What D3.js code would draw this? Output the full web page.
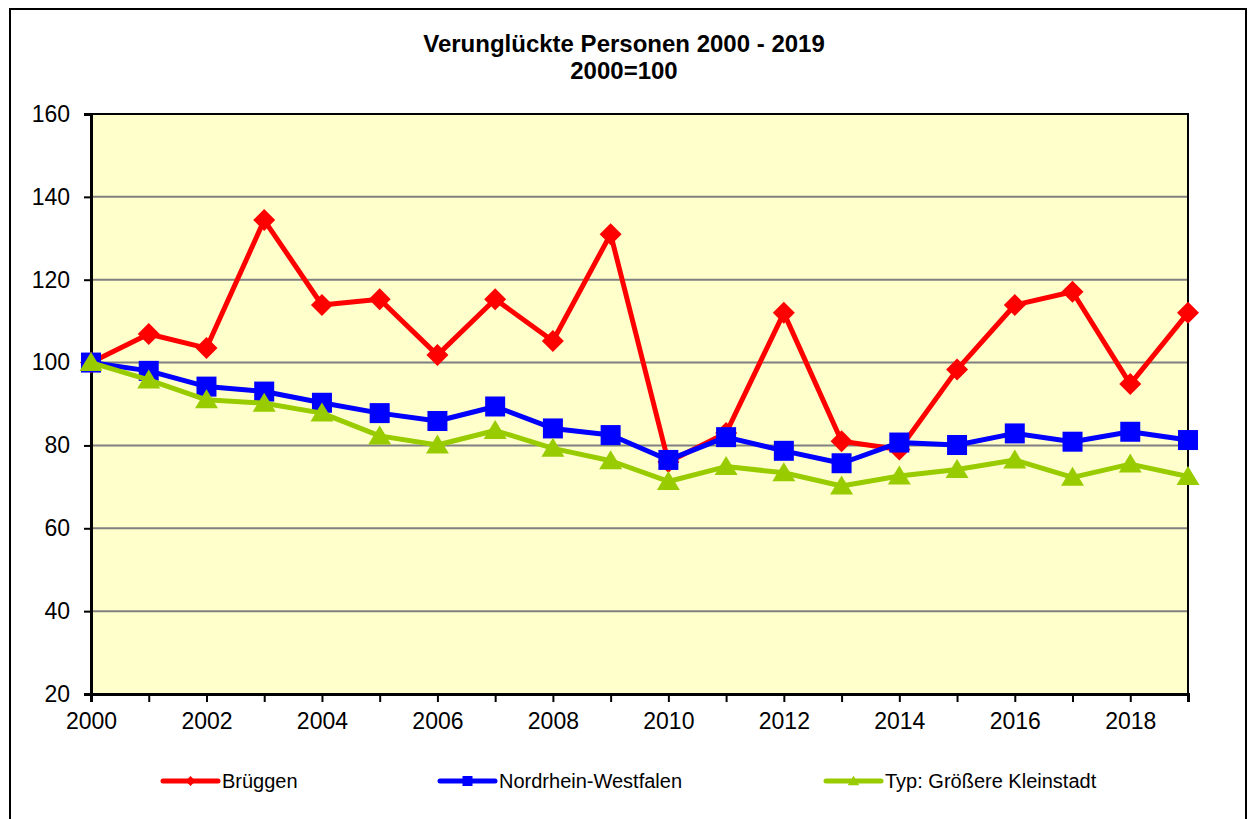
<!DOCTYPE html>
<html><head><meta charset="utf-8">
<script src="https://cdn.jsdelivr.net/npm/d3@7"></script>
<style>body{margin:0;background:#fff;}svg{display:block;font-family:"Liberation Sans",Arial,sans-serif;}</style>
</head><body><svg id="c" width="1249" height="819"></svg>
<script>
const years = d3.range(2000, 2020);
const xTickLabels = [2000,2002,2004,2006,2008,2010,2012,2014,2016,2018];
const yTicks = [20,40,60,80,100,120,140,160];
const brueggen = [100,106.9,103.5,134.4,113.9,115.3,101.8,115.3,105.2,131.0,76.0,83.0,112.0,81.0,79.0,98.3,113.9,117.1,94.8,112.0];
const nrw = [100,98.0,94.2,93.0,90.3,87.8,85.9,89.4,84.1,82.5,76.5,82.0,78.7,75.7,80.7,80.1,82.9,80.9,83.3,81.3];
const kleinstadt = [100,95.8,91.0,90.2,87.8,82.3,80.1,83.6,79.3,76.3,71.3,74.9,73.4,70.2,72.6,74.2,76.5,72.3,75.5,72.5];
const seriesNames = ["Brüggen","Nordrhein-Westfalen","Typ: Größere Kleinstadt"];
const seriesColors = ["#FF0000","#0000FF","#99CC00"];
const seriesShapes = ["diamond","square","triangle"];
const series = [brueggen, nrw, kleinstadt];

const svg = d3.select("#c");
const L=91, R=1188, T=114, B=694;
const x = d3.scaleLinear().domain([2000,2019]).range([L,R]);
const y = d3.scaleLinear().domain([20,160]).range([B,T]);

// outer frame
svg.append("rect").attr("x",10).attr("y",9).attr("width",1236).attr("height",820).attr("fill","#fff").attr("stroke","#000").attr("stroke-width",2);

// title
svg.append("text").attr("x",624).attr("y",52).attr("text-anchor","middle").attr("font-size",24).attr("font-weight","bold").text("Verunglückte Personen 2000 - 2019");
svg.append("text").attr("x",624).attr("y",79).attr("text-anchor","middle").attr("font-size",24).attr("font-weight","bold").text("2000=100");

// plot area
svg.append("rect").attr("x",L).attr("y",T).attr("width",R-L).attr("height",B-T).attr("fill","#FFFFCC");

// gridlines
svg.append("g").selectAll("line").data(yTicks.filter(v=>v>20 && v<160)).join("line")
  .attr("x1",L).attr("x2",R).attr("y1",d=>y(d)).attr("y2",d=>y(d)).attr("stroke","#808080").attr("stroke-width",2);

// plot border
svg.append("rect").attr("x",L).attr("y",T).attr("width",R-L).attr("height",B-T).attr("fill","none").attr("stroke","#000").attr("stroke-width",2);

// y axis
const yAxis = svg.append("g").attr("transform",`translate(${L},0)`)
  .call(d3.axisLeft(y).tickValues(yTicks).tickSize(7).tickPadding(14).tickFormat(d3.format("d")));
yAxis.select(".domain").attr("stroke","#000").attr("stroke-width",3);
yAxis.selectAll(".tick line").attr("stroke","#000").attr("stroke-width",2);
yAxis.selectAll(".tick text").attr("font-size",23).attr("fill","#000").attr("font-family","Liberation Sans, Arial, sans-serif");

// x axis
const xAxis = svg.append("g").attr("transform",`translate(0,${B})`)
  .call(d3.axisBottom(x).tickValues(years).tickSize(8).tickPadding(11).tickFormat(d=>xTickLabels.includes(d)?String(d):""));
xAxis.select(".domain").attr("stroke","#000").attr("stroke-width",3);
xAxis.selectAll(".tick line").attr("stroke","#000").attr("stroke-width",2);
xAxis.selectAll(".tick text").attr("font-size",23).attr("fill","#000").attr("font-family","Liberation Sans, Arial, sans-serif");

function markerPath(shape, s){
  if(shape==="diamond") return `M0,${-s}L${s},0L0,${s}L${-s},0Z`;
  if(shape==="square") return `M${-s},${-s}H${s}V${s}H${-s}Z`;
  return `M0,${-s*1.05}L${s*1.15},${s*0.85}H${-s*1.15}Z`;
}
const markerSize = {diamond:11, square:10, triangle:10};
const line = d3.line().x((d,i)=>x(years[i])).y(d=>y(d));

series.forEach((s,k)=>{
  const g = svg.append("g");
  g.append("path").datum(s).attr("d",line).attr("fill","none").attr("stroke",seriesColors[k]).attr("stroke-width",5).attr("stroke-linejoin","round");
  g.selectAll("path.m").data(s).join("path").attr("class","m")
    .attr("transform",(d,i)=>`translate(${x(years[i])},${y(d)})`)
    .attr("d",markerPath(seriesShapes[k], markerSize[seriesShapes[k]]))
    .attr("fill",seriesColors[k]);
});

// legend
const legX = [163, 440, 826];
seriesNames.forEach((n,k)=>{
  const g = svg.append("g").attr("transform",`translate(${legX[k]},781)`);
  g.append("line").attr("x1",0).attr("x2",55).attr("y1",0).attr("y2",0).attr("stroke",seriesColors[k]).attr("stroke-width",5).attr("stroke-linecap","round");
  g.append("path").attr("transform","translate(27.5,0)").attr("d",markerPath(seriesShapes[k],5)).attr("fill",seriesColors[k]);
  g.append("text").attr("x",59).attr("y",7).attr("font-size",20).attr("fill","#000").text(n);
});
</script></body></html>
